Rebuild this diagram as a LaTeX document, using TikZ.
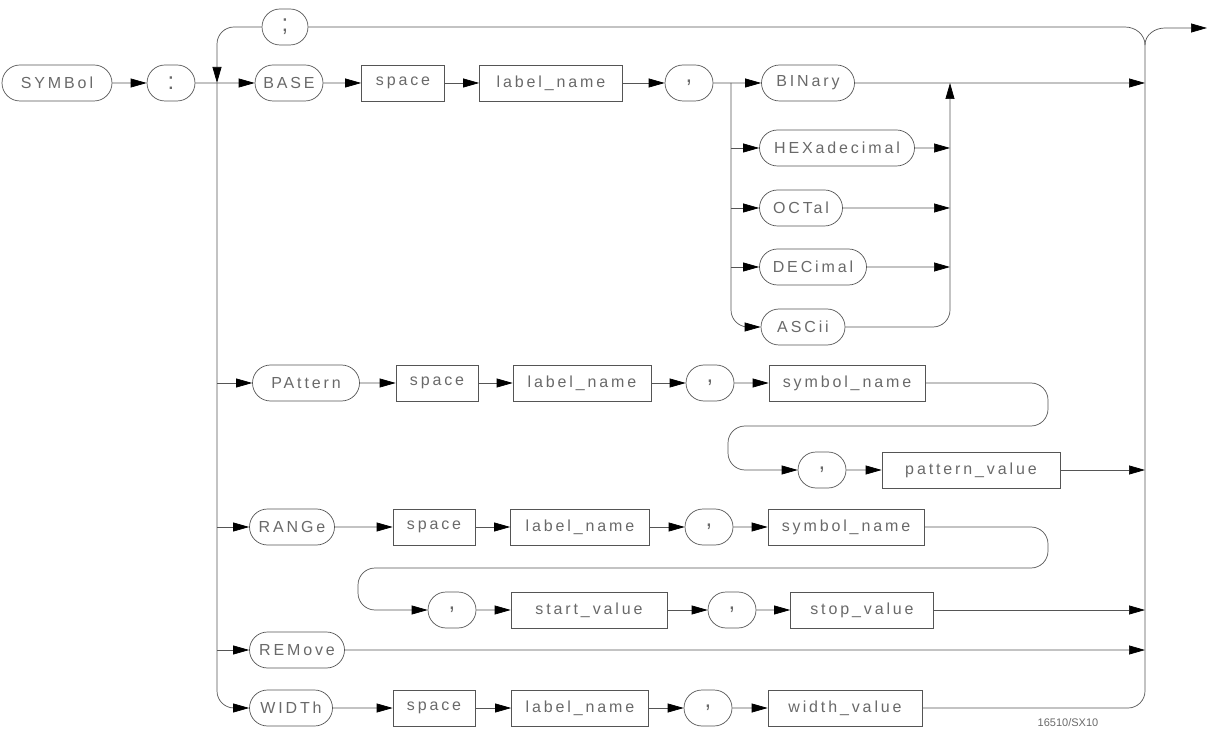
\documentclass[tikz,border=0pt]{standalone}
\usepackage{fontspec}
\setmainfont{Liberation Sans}
\newfontfamily\synfamily[LetterSpace=18]{Liberation Sans}
\newcommand\synfont{\synfamily\fontsize{16}{18}\selectfont}
\newcommand\punctfont{\synfamily\fontsize{24}{26}\selectfont}
\usetikzlibrary{arrows.meta,positioning,shapes.misc}
\definecolor{ink}{RGB}{85,85,85}
\definecolor{txt}{RGB}{105,105,105}

\begin{document}
\begin{tikzpicture}[x=1pt, y=-1pt,
  kw/.style={draw=ink, line width=0.7pt, rounded rectangle, minimum height=36pt, inner sep=0pt, text=txt, font=\synfont},
  punct/.style={kw, minimum width=48pt, minimum height=36pt, font=\punctfont},
  parm/.style={draw=ink, line width=0.7pt, rectangle, minimum height=36pt, inner sep=0pt, text=txt, font=\synfont},
  track/.style={draw=ink, line width=0.7pt},
  flow/.style={track, -{Triangle[length=16pt,width=9pt,color=black]}}]
\useasboundingbox (0,0) rectangle (1211,735);

% first row
\node[kw, minimum width=110pt] (symbol) at (57,83) {SYMBol};
\node[punct] (colon) at (171,83) {:};
\node[punct, minimum width=46pt] (semi) at (285,27) {;};
\node[kw, minimum width=68pt] (base) at (289,83) {BASE};
\node[parm, minimum width=83pt] (spaceA) at (403,83) {space};
\node[parm, minimum width=143pt] (labelA) at (551,83) {label\_name};
\node[punct] (commaA) at (689,83) {,};
\node[kw, minimum width=93pt] (binary) at (808,83) {BINary};
\node[kw, minimum width=155pt] (hex) at (837,148) {HEXadecimal};
\node[kw, minimum width=83pt] (octal) at (801,208) {OCTal};
\node[kw, minimum width=107pt] (decimal) at (813,267) {DECimal};
\node[kw, minimum width=84pt] (ascii) at (803,327) {ASCii};

\coordinate (lj) at (217,83);
\coordinate (bj) at (731,83);
\coordinate (mj) at (950,83);
\coordinate (rj) at (1145,45);
\coordinate (exit) at (1207,28);

\draw[flow] (symbol) -- (colon);
\draw[flow] (colon) -- (base);
\draw[flow] (base) -- (spaceA);
\draw[flow] (spaceA) -- (labelA);
\draw[flow] (labelA) -- (commaA);
\draw[flow] (commaA) -- (binary);
\draw[flow] (binary) -- (rj |- binary);
\draw[flow, rounded corners=17pt] (bj) |- (ascii);
\foreach \n in {hex,octal,decimal} {
  \draw[flow] (bj |- \n) -- (\n);
  \draw[flow] (\n) -- (mj |- \n);
}
\draw[flow, rounded corners=17pt] (ascii) -| (mj);

% loop back and exit
\draw[flow, rounded corners=17pt] (semi) -| (lj);
\draw[track] (semi) -- (1125,27) to[out=0,in=90] (rj);
\draw[flow] (rj) to[out=90,in=180] (1165,28) -- (exit);

% PAttern
\node[kw, minimum width=107pt] (pattern) at (306,383) {PAttern};
\node[parm, minimum width=82pt] (spaceB) at (437,383) {space};
\node[parm, minimum width=138pt] (labelB) at (582,383) {label\_name};
\node[punct] (commaB) at (710,383) {,};
\node[parm, minimum width=156pt] (symB) at (847,383) {symbol\_name};
\node[punct] (commaC) at (822,470) {,};
\node[parm, minimum width=178pt] (patval) at (971,470) {pattern\_value};
\draw[flow] (pattern) -- (spaceB);
\draw[flow] (spaceB) -- (labelB);
\draw[flow] (labelB) -- (commaB);
\draw[flow] (commaB) -- (symB);
\draw[flow, rounded corners=17pt] (symB) -- (1048,383) |- (728,426) |- (commaC);
\draw[flow] (commaC) -- (patval);
\draw[flow] (patval) -- (rj |- patval);

% RANGe
\node[kw, minimum width=85pt] (range) at (292,527) {RANGe};
\node[parm, minimum width=82pt] (spaceC) at (434,527) {space};
\node[parm, minimum width=139pt] (labelC) at (580,527) {label\_name};
\node[punct] (commaD) at (709,527) {,};
\node[parm, minimum width=156pt] (symC) at (846,527) {symbol\_name};
\node[punct] (commaE) at (452,610) {,};
\node[parm, minimum width=156pt] (startval) at (589,610) {start\_value};
\node[punct] (commaF) at (732,610) {,};
\node[parm, minimum width=143pt] (stopval) at (862,610) {stop\_value};
\draw[flow] (range) -- (spaceC);
\draw[flow] (spaceC) -- (labelC);
\draw[flow] (labelC) -- (commaD);
\draw[flow] (commaD) -- (symC);
\draw[flow, rounded corners=17pt] (symC) -- (1048,527) |- (358,568) |- (commaE);
\draw[flow] (commaE) -- (startval);
\draw[flow] (startval) -- (commaF);
\draw[flow] (commaF) -- (stopval);
\draw[flow] (stopval) -- (rj |- stopval);

% REMove
\node[kw, minimum width=95pt] (remove) at (297,650) {REMove};
\draw[flow] (remove) -- (rj |- remove);

% WIDTh
\node[kw, minimum width=83pt] (widthkw) at (291,708) {WIDTh};
\node[parm, minimum width=82pt] (spaceD) at (434,708) {space};
\node[parm, minimum width=137pt] (labelD) at (580,708) {label\_name};
\node[punct] (commaG) at (708,708) {,};
\node[parm, minimum width=154pt] (widthval) at (845,708) {width\_value};
\draw[flow] (widthkw) -- (spaceD);
\draw[flow] (spaceD) -- (labelD);
\draw[flow] (labelD) -- (commaG);
\draw[flow] (commaG) -- (widthval);

% side rails
\draw[flow, rounded corners=17pt] (lj) |- (widthkw);
\foreach \n in {pattern,range,remove}
  \draw[flow] (lj |- \n) -- (\n);
\draw[track, rounded corners=17pt] (rj) |- (widthval);

\node[text=txt, font=\fontsize{11}{13}\selectfont] (figid) at (1068,723) {16510/SX10};
\end{tikzpicture}
\end{document}
